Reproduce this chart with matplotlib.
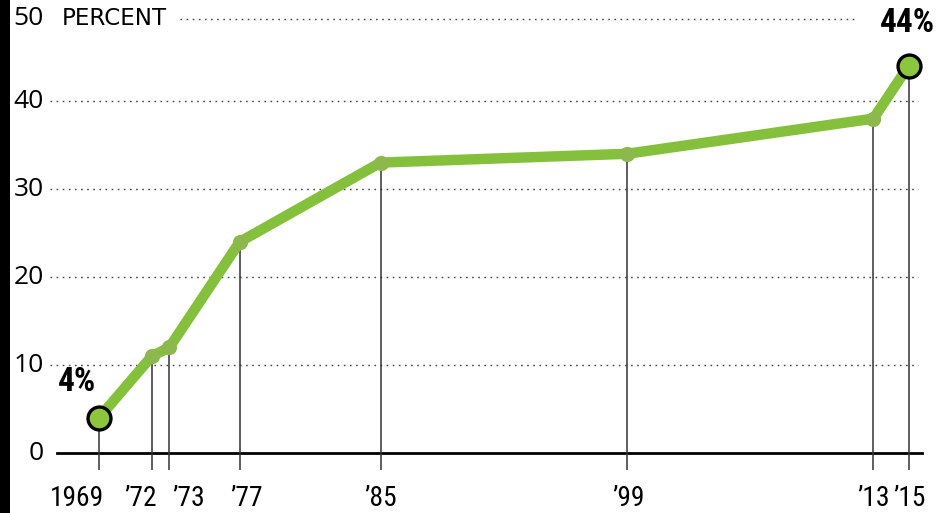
import matplotlib
matplotlib.use("Agg")
import matplotlib.pyplot as plt
from matplotlib import font_manager
from matplotlib.font_manager import FontProperties
from matplotlib.patches import Rectangle
from matplotlib.transforms import ScaledTranslation

# Share of the population, by survey year
years = [1969, 1972, 1973, 1977, 1985, 1999, 2013, 2015]
values = [4, 11, 12, 24, 33, 34, 38, 44]
year_labels = ["1969", "\u201972", "\u201973", "\u201977", "\u201985", "\u201999", "\u201913", "\u201915"]
y_ticks = [0, 10, 20, 30, 40, 50]


def _is_bold(f):
    w = f.weight
    if isinstance(w, str):
        return w in ("bold", "heavy", "black", "extra bold", "demibold", "semibold")
    return w >= 600


def narrow_font(bold=False):
    """Prefer a narrow / condensed face when one is installed."""
    fonts = font_manager.fontManager.ttflist
    prefs = ["liberation sans narrow", "roboto condensed", "noto sans condensed",
             "open sans condensed", "dejavu sans condensed"]
    cands = []
    for f in fonts:
        key = (f.name + " " + f.fname).lower().replace("-", " ").replace("_", " ")
        if f.style != "normal" or "italic" in key or "oblique" in key:
            continue
        if "extra" in key or "semi" in key or "ultra" in key:
            continue
        narrow = ("narrow" in key or "condensed" in key or f.stretch == "condensed")
        if not narrow or _is_bold(f) != bold:
            continue
        rank = len(prefs)
        for i, p in enumerate(prefs):
            if p.split()[0] in key:
                rank = i
                break
        cands.append((rank, f.fname))
    if cands:
        cands.sort()
        return FontProperties(fname=cands[0][1])
    return FontProperties(family="Liberation Sans", weight="bold" if bold else "normal")


def fit_size(fig, text, fp, width_px, start=20.0):
    """Font size at which `text` spans `width_px` pixels."""
    r = fig.canvas.get_renderer()
    probe = fp.copy()
    probe.set_size(start)
    t = fig.text(0, 0, text, fontproperties=probe)
    w = t.get_window_extent(renderer=r).width
    t.remove()
    return start * width_px / w if w > 0 else start


GREEN = "#84c03c"
DOT_GREEN = "#8cb84e"

W, H = 938, 513
fig = plt.figure(figsize=(W / 100, H / 100), dpi=100)
fig.patch.set_facecolor("white")
fig.patches.append(Rectangle((0, 0), 10 / W, 1, transform=fig.transFigure,
                             facecolor="black", edgecolor="none", zorder=10))

ax = fig.add_axes([50 / W, (H - 470) / H, 875 / W, 470 / H])
x_lo = 1969 - 49 / 17.6
x_hi = 1969 + 826 / 17.6
y_lo = (453 - 470) / 8.8
y_hi = 453 / 8.8
ax.set_xlim(x_lo, x_hi)
ax.set_ylim(y_lo, y_hi)
ax.axis("off")

# header row sits a few pixels below the 50 gridline position
head_shift = ScaledTranslation(0, -6 / 100, fig.dpi_scale_trans)

# dotted reference lines
for t in y_ticks[1:-1]:
    ax.axhline(t, xmin=0.0, xmax=0.992, color="#444444", lw=1.0,
               ls=(0, (1.2, 3.2)), zorder=1)
ax.plot([0.148, 0.922], [y_ticks[-1]] * 2, color="#444444", lw=1.0,
        ls=(0, (1.2, 3.2)), zorder=1,
        transform=ax.get_yaxis_transform() + head_shift)
# baseline
ax.axhline(0, xmin=0.008, xmax=0.997, color="black", lw=2.0, zorder=2)

# drop lines from each point to below the baseline
ax.vlines(years, y_lo, values, color="#333333", lw=1.1, zorder=2)

# series line
ax.plot(years, values, color=GREEN, lw=7.5, solid_joinstyle="round",
        solid_capstyle="round", zorder=3)
ax.plot(years[1:-1], values[1:-1], "o", color=DOT_GREEN, ms=11, mec="none", zorder=4)
ax.plot([years[0], years[-1]], [values[0], values[-1]], "o", color="#8cc63f",
        ms=16.5, mec="black", mew=2.4, zorder=5)

reg_narrow = narrow_font(False)
bold_narrow = narrow_font(True)

# value callouts
lbl_bold = bold_narrow.copy()
lbl_bold.set_size(min(25.0, max(23.0, fit_size(fig, "44%", bold_narrow, 55))))
ax.annotate(f"{values[0]}%", (years[0], values[0]), xytext=(-22, 36),
            textcoords="offset pixels", ha="center", va="center",
            fontproperties=lbl_bold, color="black")
ax.annotate(f"{values[-1]}%", (years[-1], values[-1]), xytext=(-1, 43),
            textcoords="offset pixels", ha="center", va="center",
            fontproperties=lbl_bold, color="black")

# y-axis labels
for t in y_ticks[:-1]:
    ax.annotate(str(t), (0, t), xycoords=("axes fraction", "data"),
                xytext=(-6, 0), textcoords="offset pixels",
                ha="right", va="center", fontsize=19, family="Open Sans", color="black")
head_tr = ax.get_yaxis_transform() + head_shift
ax.text(0, y_ticks[-1], f"{y_ticks[-1]}", transform=head_tr + ScaledTranslation(-6 / 100, 0, fig.dpi_scale_trans),
        ha="right", va="center", fontsize=19, family="Open Sans", color="black")
pct_fp = FontProperties(family="DejaVu Sans")
pct_fp.set_size(fit_size(fig, "PERCENT", pct_fp, 105))
ax.text(0, y_ticks[-1], "PERCENT", transform=head_tr + ScaledTranslation(12 / 100, 0, fig.dpi_scale_trans),
        ha="left", va="center", fontproperties=pct_fp, color="black")

# x-axis labels, nudged where neighbours are close
xl = reg_narrow.copy()
xl.set_size(min(21.0, fit_size(fig, "1969", reg_narrow, 54)))
nudges = [-22, -11, 19, 7, 0, 1, 0, 1]
for yr, lab, dx in zip(years, year_labels, nudges):
    ax.annotate(lab, (yr, 0), xycoords=("data", "axes fraction"),
                xytext=(dx, -28), textcoords="offset pixels",
                ha="center", va="center", fontproperties=xl, color="black")

fig.savefig("out.png", dpi=100, facecolor="white")
